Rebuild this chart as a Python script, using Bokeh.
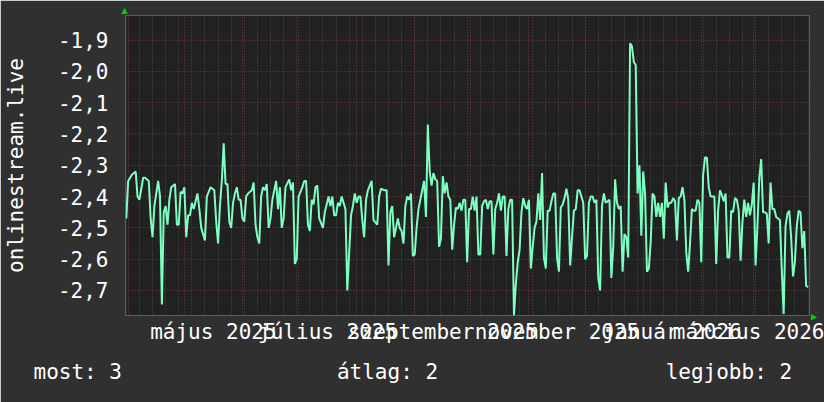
import pandas as pd
from bokeh.plotting import figure
from bokeh.models import FixedTicker, CustomJSTickFormatter, Range1d, Title
from bokeh.embed import file_html
from bokeh.resources import INLINE

# ---- data (days counted from 2025-03-31) ----
BASE = pd.Timestamp("2025-03-31")
days = [0, 1, 3, 5, 6, 7, 9, 10, 12, 13, 14, 15, 17, 18, 19, 20, 21, 22, 23, 24, 26, 27, 28, 29, 30,
        31, 32, 33, 34, 35, 36, 38, 39, 40, 42, 43, 45, 47, 48, 49, 50, 51, 52, 53, 54, 55, 56, 57, 58,
        59, 60, 61, 62, 63, 64, 65, 67, 68, 69, 70, 71, 72, 73, 74, 75, 76, 77, 78, 80, 81, 82, 83, 84,
        85, 87, 88, 89, 90, 91, 92, 94, 95, 96, 97, 98, 99, 100, 101, 102, 103, 105, 106, 108, 109, 110,
        111, 112, 113, 114, 115, 116, 117, 118, 119, 120, 121, 122, 123, 124, 125, 126, 127, 128, 129,
        131, 132, 134, 135, 136, 138, 139, 140, 141, 142, 143, 145, 146, 147, 148, 149, 150, 151, 152,
        153, 154, 155, 156, 157, 158, 159, 160, 161, 162, 163, 164, 165, 166, 167, 168, 169, 170, 171,
        172, 173, 174, 175, 176, 177, 178, 179, 180, 181, 182, 183, 184, 185, 186, 187, 188, 189, 190,
        191, 192, 193, 194, 195, 196, 197, 198, 199, 200, 201, 202, 203, 204, 205, 206, 207, 208, 209,
        210, 211, 212, 213, 214, 215, 216, 217, 218, 219, 220, 221, 222, 223, 224, 225, 226, 227, 228,
        229, 230, 231, 232, 233, 234, 235, 236, 237, 238, 239, 240, 241, 242, 243, 244, 245, 246, 247,
        248, 249, 250, 251, 252, 253, 254, 255, 256, 258, 259, 260, 261, 262, 263, 264, 265, 266, 267,
        268, 269, 270, 271, 272, 273, 274, 275, 276, 277, 278, 279, 280, 281, 282, 283, 284, 285, 286,
        287, 288, 289, 290, 291, 292, 293, 294, 295, 296, 297, 298, 299, 300, 301, 302, 303, 304, 305,
        306, 307, 308, 309, 310, 311, 312, 313, 314, 315, 316, 317, 318, 319, 320, 321, 322, 323, 324,
        325, 326, 327, 328, 329, 330, 331, 332, 333, 334, 335, 336, 337, 338, 339, 340, 341, 342, 343,
        344, 345, 346, 347, 348, 349, 350, 351, 352, 353, 354, 355, 356, 357, 358, 359, 360, 361, 362,
        363, 364]
values = [-2.47, -2.35, -2.33, -2.32, -2.40, -2.41, -2.34, -2.34, -2.35, -2.47, -2.53, -2.43, -2.35,
          -2.40, -2.745, -2.45, -2.43, -2.49, -2.41, -2.37, -2.36, -2.49, -2.49, -2.385, -2.39,
          -2.37, -2.53, -2.46, -2.46, -2.42, -2.44, -2.39, -2.44, -2.50, -2.54, -2.40, -2.37, -2.38,
          -2.48, -2.55, -2.43, -2.35, -2.23, -2.36, -2.36, -2.48, -2.50, -2.42, -2.39,
          -2.37, -2.41, -2.41, -2.47, -2.48, -2.40, -2.39, -2.38, -2.355, -2.49, -2.53, -2.55, -2.40,
          -2.37, -2.38, -2.36, -2.50, -2.47, -2.41, -2.35, -2.44, -2.37, -2.50, -2.47,
          -2.37, -2.345, -2.38, -2.355, -2.615, -2.60, -2.40, -2.37, -2.35, -2.35, -2.49, -2.51, -2.41,
          -2.425, -2.37, -2.365, -2.47, -2.50, -2.45, -2.40, -2.43, -2.40,
          -2.46, -2.46, -2.42, -2.43, -2.40, -2.42, -2.44, -2.70, -2.58, -2.46, -2.43, -2.39, -2.42,
          -2.40, -2.40, -2.475, -2.53, -2.41, -2.38,
          -2.35, -2.475, -2.49, -2.40, -2.375, -2.38, -2.38, -2.62, -2.45, -2.43, -2.53, -2.47, -2.50,
          -2.51, -2.55, -2.43, -2.40, -2.41, -2.39,
          -2.59, -2.585, -2.50, -2.44, -2.41, -2.38, -2.35, -2.465, -2.17, -2.32, -2.365, -2.325,
          -2.345, -2.35, -2.56, -2.535, -2.335, -2.39, -2.355,
          -2.40, -2.41, -2.57, -2.49, -2.435, -2.44, -2.42, -2.445, -2.41, -2.41, -2.61, -2.44, -2.44,
          -2.40, -2.445, -2.40, -2.585, -2.585, -2.43,
          -2.415, -2.41, -2.44, -2.415, -2.415, -2.585, -2.44, -2.42, -2.39, -2.445, -2.40, -2.40,
          -2.59, -2.44, -2.41, -2.41, -2.78, -2.68, -2.61,
          -2.57, -2.45, -2.405, -2.43, -2.44, -2.41, -2.63, -2.56, -2.50, -2.48, -2.39, -2.475, -2.325,
          -2.595, -2.63, -2.445, -2.445, -2.415, -2.39,
          -2.39, -2.595, -2.64, -2.435, -2.425, -2.405, -2.375, -2.41, -2.62, -2.53, -2.445, -2.44,
          -2.38, -2.38, -2.40, -2.42, -2.60, -2.59, -2.42,
          -2.40, -2.40, -2.42, -2.41, -2.66, -2.70, -2.43, -2.39, -2.42, -2.41, -2.66, -2.56, -2.345,
          -2.42, -2.44, -2.43, -2.64, -2.52, -2.53,
          -2.595, -1.91, -1.92, -1.97, -1.98, -2.39, -2.30, -2.525, -2.32, -2.39, -2.64, -2.63, -2.545,
          -2.39, -2.40, -2.465, -2.42, -2.465, -2.42,
          -2.535, -2.355, -2.435, -2.42, -2.42, -2.405, -2.415, -2.54, -2.405, -2.40, -2.37, -2.41,
          -2.58, -2.64, -2.55, -2.44, -2.445, -2.445, -2.41,
          -2.42, -2.61, -2.33, -2.275, -2.275, -2.37, -2.40, -2.40, -2.40, -2.615, -2.445, -2.38,
          -2.395, -2.415, -2.39, -2.595, -2.595, -2.445, -2.45,
          -2.405, -2.41, -2.445, -2.605, -2.48, -2.41, -2.465, -2.42, -2.46, -2.425, -2.355, -2.62,
          -2.495, -2.34, -2.28, -2.45, -2.45, -2.455, -2.55,
          -2.355, -2.44, -2.44, -2.465, -2.47, -2.475, -2.635, -2.775, -2.495, -2.455, -2.445, -2.53,
          -2.655, -2.61, -2.495, -2.445, -2.45, -2.565, -2.51,
          -2.685, -2.69]

label_months = ["2025-05-01", "2025-07-01", "2025-09-01", "2025-11-01", "2026-01-01", "2026-03-01"]
label_texts = ["május 2025", "július 2025", "szeptember 2025", "november 2025",
               "január 2026", "március 2026"]
y_ticks = [-2.7, -2.6, -2.5, -2.4, -2.3, -2.2, -2.1, -2.0, -1.9]
y_title = "onlinestream.live"
legend_texts = ["most: 3", "átlag: 2", "legjobb: 2"]

# ---- derived tick positions (in days since BASE) ----
month_days = [float((d - BASE).days) for d in pd.date_range("2025-04-01", "2026-03-01", freq="MS")]
week_days = [float((d - BASE).days) for d in pd.date_range("2025-03-31", "2026-03-30", freq="7D")]
label_pos = []
for m in label_months:
    t = pd.Timestamp(m)
    label_pos.append((t - BASE).days + t.days_in_month / 2.0)

FONT = "DejaVu Sans Mono"
OUTER = "#303030"
INNER = "#212121"
TXT = "#ffffff"
ARROW = "#00d000"

p = figure(width=824, height=402,
           min_border_left=125, min_border_right=15, min_border_top=15, min_border_bottom=87,
           x_range=Range1d(-0.43, 364.8), y_range=Range1d(-2.78, -1.8215),
           output_backend="svg", toolbar_location=None)
p.background_fill_color = INNER
p.border_fill_color = OUTER
p.outline_line_color = None

p.line(days, values, line_color="#7dffc2", line_width=2)

# x axis
p.xaxis.ticker = FixedTicker(ticks=label_pos)
p.xaxis.formatter = CustomJSTickFormatter(
    args=dict(pos=label_pos, txt=label_texts),
    code="""
    let best = 0, bd = 1e9;
    for (let i = 0; i < pos.length; i++) { const d = Math.abs(pos[i] - tick); if (d < bd) { bd = d; best = i; } }
    return txt[best];
    """)
p.xaxis.major_tick_line_color = None
p.xaxis.minor_tick_line_color = None
p.xaxis.axis_line_color = None
p.xaxis.major_tick_out = 0
p.xaxis.major_tick_in = 0
p.xaxis.major_label_standoff = 4
p.xaxis.major_label_text_font = FONT
p.xaxis.major_label_text_font_size = "21px"
p.xaxis.major_label_text_color = TXT

# y axis
p.yaxis.ticker = FixedTicker(ticks=y_ticks)
p.yaxis.formatter = CustomJSTickFormatter(code="return tick.toFixed(1).replace('.', ',');")
p.yaxis.major_tick_line_color = None
p.yaxis.minor_tick_line_color = None
p.yaxis.axis_line_color = None
p.yaxis.major_tick_out = 0
p.yaxis.major_tick_in = 0
p.yaxis.major_label_standoff = 17
p.yaxis.major_label_text_font = FONT
p.yaxis.major_label_text_font_size = "21px"
p.yaxis.major_label_text_color = TXT
p.yaxis.axis_label = y_title
p.yaxis.axis_label_text_font = FONT
p.yaxis.axis_label_text_font_size = "21px"
p.yaxis.axis_label_text_font_style = "normal"
p.yaxis.axis_label_text_color = TXT
p.yaxis.axis_label_standoff = 27

# grids
p.xgrid.ticker = FixedTicker(ticks=month_days, minor_ticks=week_days)
p.xgrid.grid_line_color = "#7a3b3b"
p.xgrid.grid_line_dash = "1 2"
p.xgrid.minor_grid_line_color = "#4e4e4e"
p.xgrid.minor_grid_line_dash = "1 2"
p.ygrid.grid_line_color = "#7a3b3b"
p.ygrid.grid_line_dash = "1 2"

# legend line under the chart (monospace, spaced with no-break spaces)
NB = "\u00a0"
legend_line = legend_texts[0] + NB * 17 + legend_texts[1] + NB * 18 + legend_texts[2]
p.add_layout(Title(text=legend_line, align="left", offset=-92, standoff=23,
                   text_font=FONT, text_font_size="21px", text_font_style="normal",
                   text_color=TXT), "below")

# small axis arrows
p.add_layout(Title(text="▲", align="left", offset=-4, standoff=2,
                   text_font="DejaVu Sans", text_font_size="8px", text_font_style="normal",
                   text_color=ARROW), "above")
p.add_layout(Title(text="▲", align="right", offset=-5, standoff=1,
                   text_font="DejaVu Sans", text_font_size="8px", text_font_style="normal",
                   text_color=ARROW), "right")

open("out.html", "w").write(file_html(p, INLINE))
